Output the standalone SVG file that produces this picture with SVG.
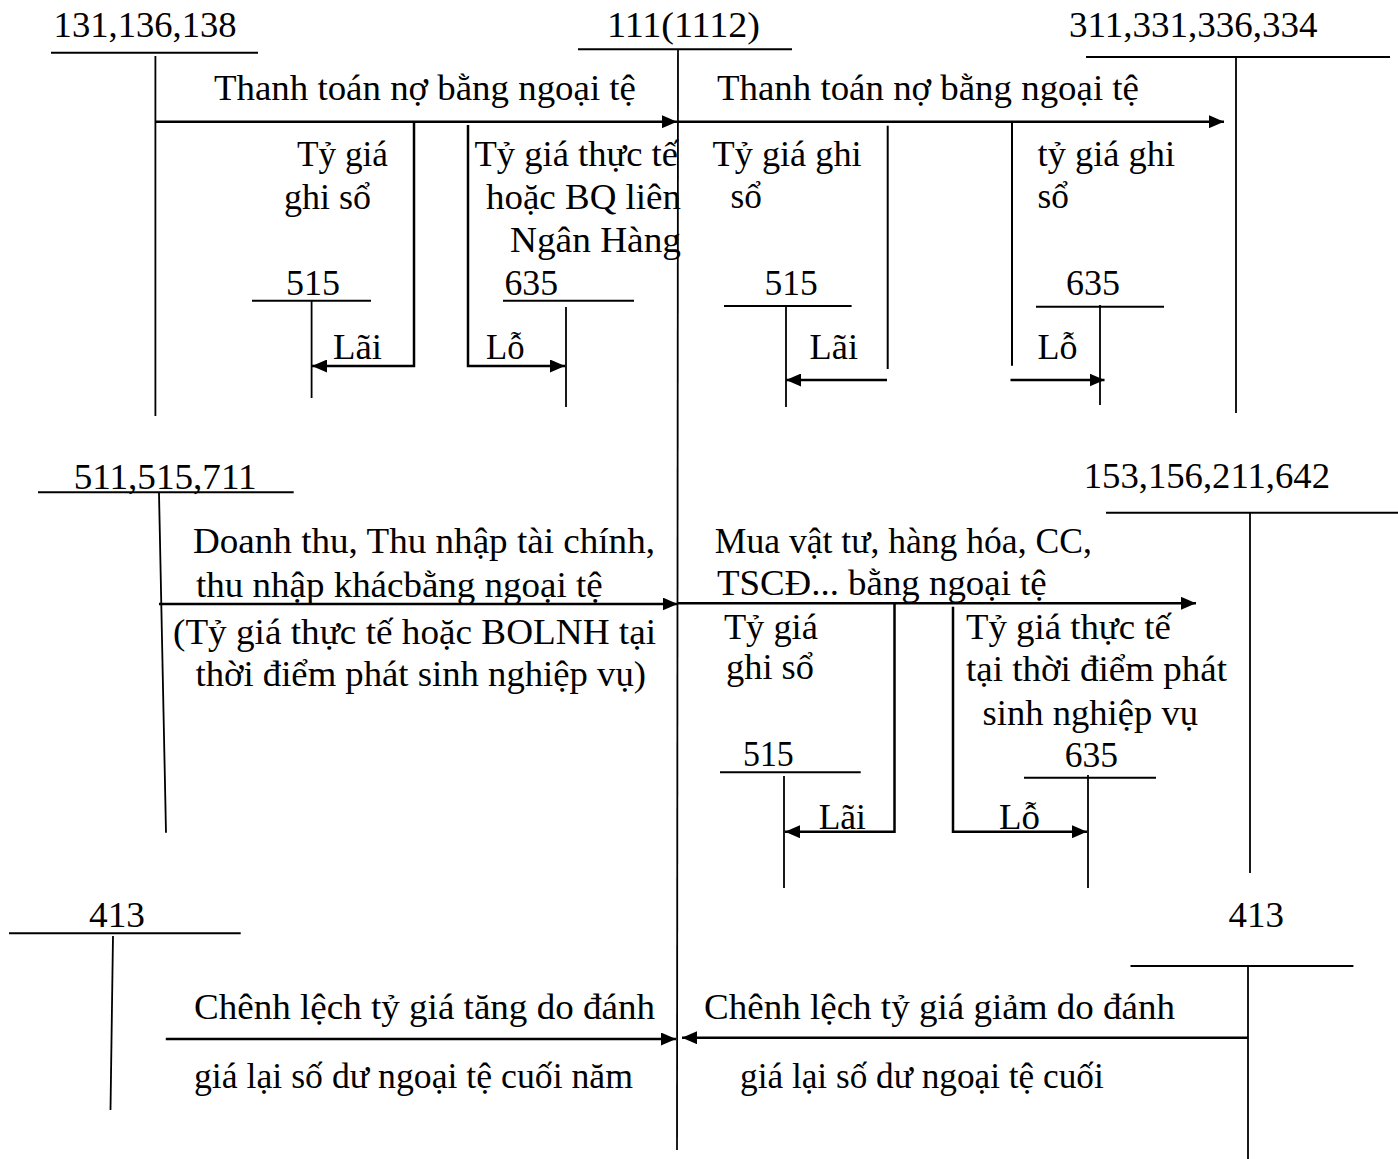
<svg xmlns="http://www.w3.org/2000/svg" width="1398" height="1159" viewBox="0 0 1398 1159">
<style>
text{font-family:"Liberation Serif","Times New Roman",serif;font-size:36px;fill:#000}
.acc{stroke:#000;stroke-width:2;fill:none}
.v{stroke:#000;stroke-width:1.8;fill:none}
.arr{stroke:#000;stroke-width:2.5;fill:none;marker-end:url(#ah)}
.ln{stroke:#000;stroke-width:2;fill:none}
</style>
<defs>
<marker id="ah" markerUnits="userSpaceOnUse" markerWidth="15" markerHeight="13" refX="15" refY="6.5" orient="auto">
<path d="M0,0 L15,6.5 L0,13 z" fill="#000"/>
</marker>
</defs>
<rect width="1398" height="1159" fill="#fff"/>
<g id="nodes">
<g id="n131"><text x="53.6" y="37" textLength="183" lengthAdjust="spacingAndGlyphs">131,136,138</text><line class="acc" x1="51" y1="52.7" x2="258" y2="52.7"/><line class="v" x1="155.4" y1="56" x2="155.4" y2="416"/></g>
<g id="n111"><text x="607" y="37" textLength="153" lengthAdjust="spacingAndGlyphs">111(1112)</text><line class="acc" x1="578" y1="49.3" x2="792" y2="49.3"/><line class="v" x1="678" y1="50" x2="677" y2="1150"/></g>
<g id="n311"><text x="1069" y="37" textLength="248.5" lengthAdjust="spacingAndGlyphs">311,331,336,334</text><line class="acc" x1="1086" y1="57" x2="1390" y2="57"/><line class="v" x1="1236" y1="57" x2="1236" y2="413"/></g>
<g id="n515a"><text x="286" y="295" textLength="54" lengthAdjust="spacingAndGlyphs">515</text><line class="acc" x1="252" y1="300.7" x2="371" y2="300.7"/><line class="v" x1="311.6" y1="300" x2="311.6" y2="398"/></g>
<g id="n635a"><text x="504.5" y="295" textLength="53.5" lengthAdjust="spacingAndGlyphs">635</text><line class="acc" x1="503" y1="300.7" x2="634" y2="300.7"/><line class="v" x1="566" y1="307" x2="566" y2="407"/></g>
<g id="n515b"><text x="764.5" y="295" textLength="53.3" lengthAdjust="spacingAndGlyphs">515</text><line class="acc" x1="724" y1="306" x2="851.6" y2="306"/><line class="v" x1="786" y1="306" x2="786" y2="407"/></g>
<g id="n635b"><text x="1066" y="295" textLength="54" lengthAdjust="spacingAndGlyphs">635</text><line class="acc" x1="1036" y1="306.7" x2="1164" y2="306.7"/><line class="v" x1="1100" y1="305" x2="1100" y2="405"/></g>
<g id="n511"><text x="73.7" y="489" textLength="183" lengthAdjust="spacingAndGlyphs">511,515,711</text><line class="acc" x1="38" y1="492.3" x2="293.7" y2="492.3"/><line class="v" x1="159" y1="493" x2="166" y2="832.7"/></g>
<g id="n153"><text x="1083.7" y="488" textLength="246.3" lengthAdjust="spacingAndGlyphs">153,156,211,642</text><line class="acc" x1="1106" y1="512.7" x2="1398" y2="512.7"/><line class="v" x1="1250" y1="512" x2="1250" y2="873"/></g>
<g id="n515c"><text x="743" y="766" textLength="50.8" lengthAdjust="spacingAndGlyphs">515</text><line class="acc" x1="720" y1="772.3" x2="860.7" y2="772.3"/><line class="v" x1="784" y1="776" x2="784" y2="888"/></g>
<g id="n635c"><text x="1064.7" y="766.7" textLength="53.3" lengthAdjust="spacingAndGlyphs">635</text><line class="acc" x1="1024" y1="777.7" x2="1156" y2="777.7"/><line class="v" x1="1088" y1="775" x2="1088" y2="888"/></g>
<g id="n413a"><text x="89" y="926.7" textLength="56" lengthAdjust="spacingAndGlyphs">413</text><line class="acc" x1="9" y1="933.3" x2="240.7" y2="933.3"/><line class="v" x1="113" y1="936" x2="110.5" y2="1110"/></g>
<g id="n413b"><text x="1228.6" y="926.7" textLength="55.4" lengthAdjust="spacingAndGlyphs">413</text><line class="acc" x1="1130.5" y1="966" x2="1353.4" y2="966"/><line class="v" x1="1248" y1="966" x2="1248" y2="1159"/></g>
</g>
<g id="connectors">
<line class="arr" x1="155" y1="121.7" x2="677" y2="121.7"/>
<path class="arr" d="M414,122 V366 H312"/>
<path class="arr" d="M468,125 V366 H565"/>
<line class="arr" x1="678" y1="121.7" x2="1224" y2="121.7"/>
<line class="ln" x1="887.7" y1="125.7" x2="887.7" y2="369"/>
<line class="arr" x1="887" y1="380" x2="786" y2="380"/>
<line class="ln" x1="1012" y1="122.7" x2="1012" y2="365.7"/>
<line class="arr" x1="1010.5" y1="380" x2="1104.5" y2="380"/>
<line class="arr" x1="159" y1="604" x2="677.7" y2="604"/>
<line class="arr" x1="678" y1="603.3" x2="1196" y2="603.3"/>
<path class="arr" d="M894.5,603 V831.7 H785"/>
<path class="arr" d="M953,606.7 V831.7 H1087"/>
<line class="arr" x1="165.8" y1="1039" x2="676" y2="1039"/>
<line class="arr" x1="1248" y1="1037.7" x2="682" y2="1037.7"/>
</g>
<g id="labels">
<text x="214" y="100" textLength="422" lengthAdjust="spacingAndGlyphs">Thanh toán nợ bằng ngoại tệ</text>
<text x="297" y="166" textLength="91" lengthAdjust="spacingAndGlyphs">Tỷ giá</text>
<text x="284" y="209" textLength="87" lengthAdjust="spacingAndGlyphs">ghi sổ</text>
<text x="474.5" y="166" textLength="203.5" lengthAdjust="spacingAndGlyphs">Tỷ giá thực tế</text>
<text x="486" y="209" textLength="195" lengthAdjust="spacingAndGlyphs">hoặc BQ liên</text>
<text x="510" y="252" textLength="171" lengthAdjust="spacingAndGlyphs">Ngân Hàng</text>
<text x="333" y="359" textLength="49" lengthAdjust="spacingAndGlyphs">Lãi</text>
<text x="486" y="359" textLength="38.5" lengthAdjust="spacingAndGlyphs">Lỗ</text>
<text x="717" y="100" textLength="422" lengthAdjust="spacingAndGlyphs">Thanh toán nợ bằng ngoại tệ</text>
<text x="712.6" y="166" textLength="149" lengthAdjust="spacingAndGlyphs">Tỷ giá ghi</text>
<text x="730.6" y="208" textLength="31.4" lengthAdjust="spacingAndGlyphs">sổ</text>
<text x="1037.6" y="166" textLength="137.4" lengthAdjust="spacingAndGlyphs">tỷ giá ghi</text>
<text x="1037.6" y="208" textLength="31.4" lengthAdjust="spacingAndGlyphs">sổ</text>
<text x="809.6" y="359" textLength="48.4" lengthAdjust="spacingAndGlyphs">Lãi</text>
<text x="1037.6" y="359" textLength="40" lengthAdjust="spacingAndGlyphs">Lỗ</text>
<text x="193" y="553.3" textLength="462" lengthAdjust="spacingAndGlyphs">Doanh thu, Thu nhập tài chính,</text>
<text x="196" y="596.7" textLength="406.7" lengthAdjust="spacingAndGlyphs">thu nhập khácbằng ngoại tệ</text>
<text x="173" y="644" textLength="483" lengthAdjust="spacingAndGlyphs">(Tỷ giá thực tế hoặc BOLNH tại</text>
<text x="195.5" y="685.7" textLength="450.5" lengthAdjust="spacingAndGlyphs">thời điểm phát sinh nghiệp vụ)</text>
<text x="714.8" y="552.7" textLength="377" lengthAdjust="spacingAndGlyphs">Mua vật tư, hàng hóa, CC,</text>
<text x="717" y="595" textLength="329.7" lengthAdjust="spacingAndGlyphs">TSCĐ... bằng ngoại tệ</text>
<text x="723.9" y="639.3" textLength="94" lengthAdjust="spacingAndGlyphs">Tỷ giá</text>
<text x="726" y="679.3" textLength="88" lengthAdjust="spacingAndGlyphs">ghi sổ</text>
<text x="966" y="639.3" textLength="204.8" lengthAdjust="spacingAndGlyphs">Tỷ giá thực tế</text>
<text x="966" y="680.7" textLength="261" lengthAdjust="spacingAndGlyphs">tại thời điểm phát</text>
<text x="982.6" y="725" textLength="215.4" lengthAdjust="spacingAndGlyphs">sinh nghiệp vụ</text>
<text x="818.7" y="829.3" textLength="47.3" lengthAdjust="spacingAndGlyphs">Lãi</text>
<text x="999" y="829.3" textLength="41" lengthAdjust="spacingAndGlyphs">Lỗ</text>
<text x="194" y="1019.3" textLength="461" lengthAdjust="spacingAndGlyphs">Chênh lệch tỷ giá tăng do đánh</text>
<text x="194" y="1088.3" textLength="439" lengthAdjust="spacingAndGlyphs">giá lại số dư ngoại tệ cuối năm</text>
<text x="704" y="1019.3" textLength="471" lengthAdjust="spacingAndGlyphs">Chênh lệch tỷ giá giảm do đánh</text>
<text x="740" y="1088.3" textLength="363.8" lengthAdjust="spacingAndGlyphs">giá lại số dư ngoại tệ cuối</text>
</g>
</svg>
